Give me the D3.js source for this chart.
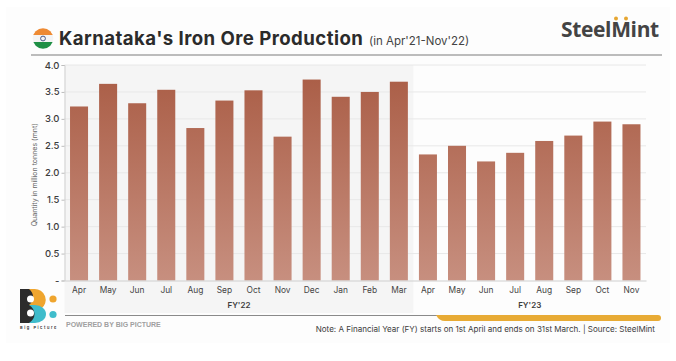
<!DOCTYPE html>
<html lang="en">
<head>
    <meta charset="UTF-8">
    <script src="https://d3js.org/d3.v7.min.js"></script>
    <style>
        html, body { margin: 0; padding: 0; background: #fff; }
        svg { display: block; }
        text { font-family: Inter, "Open Sans", sans-serif; }
        .domain { stroke: #cfcfcf; }
        .tick line { stroke: #bdbdbd; }
    </style>
    <title>Karnataka's Iron Ore Production</title>
</head>
<body>
    <svg width="676" height="361"></svg>
    <script>
        // data
        const months = ["Apr","May","Jun","Jul","Aug","Sep","Oct","Nov","Dec","Jan","Feb","Mar",
                        "Apr","May","Jun","Jul","Aug","Sep","Oct","Nov"];
        const production = [3.23,3.65,3.29,3.54,2.83,3.34,3.53,2.67,3.73,3.41,3.50,3.69,
                            2.34,2.50,2.21,2.37,2.59,2.69,2.95,2.90];
        const yTicks = [0,0.5,1,1.5,2,2.5,3,3.5,4];
        const fyLabels = ["FY'22","FY'23"];
        const fyCounts = [12,8];

        const width = 676, height = 361;
        const margin = { top: 65, right: 30, bottom: 80.5, left: 64.5 };

        const svg = d3.select("svg");
        const bands = d3.range(months.length);

        const x = d3.scaleBand()
            .domain(bands)
            .range([margin.left, width - margin.right])
            .paddingInner(0.38)
            .paddingOuter(0.19);
        const y = d3.scaleLinear()
            .domain([0, 4])
            .range([height - margin.bottom, margin.top]);
        const step = x.step();

        // gradient for bars
        const grad = svg.append("defs").append("linearGradient")
            .attr("id", "barFill")
            .attr("gradientUnits", "userSpaceOnUse")
            .attr("x1", 0).attr("x2", 0)
            .attr("y1", y(3.73)).attr("y2", y(0));
        grad.append("stop").attr("offset", 0).attr("stop-color", "#ab5f48");
        grad.append("stop").attr("offset", 1).attr("stop-color", "#c78f7f");

        // page panel
        svg.append("rect").attr("x", 6).attr("y", 7).attr("width", 664).attr("height", 336).attr("fill", "#fdfdfd");

        // FY'22 shading
        svg.append("rect")
            .attr("x", margin.left).attr("y", y(4))
            .attr("width", step * fyCounts[0]).attr("height", 313 - y(4))
            .attr("fill", "#f5f5f5");

        // y gridlines
        svg.append("g").selectAll("line")
            .data(yTicks.slice(1))
            .join("line")
            .attr("x1", margin.left).attr("x2", width - margin.right)
            .attr("y1", d => y(d)).attr("y2", d => y(d))
            .attr("stroke", "#e8e8e8");

        // bars
        svg.append("g").selectAll("rect")
            .data(production)
            .join("rect")
            .attr("x", (d, i) => x(i))
            .attr("y", d => y(d))
            .attr("width", x.bandwidth())
            .attr("height", d => y(0) - y(d))
            .attr("fill", "url(#barFill)");

        // axes
        svg.append("g")
            .attr("transform", `translate(${margin.left},0)`)
            .call(d3.axisLeft(y).tickValues(yTicks).tickSize(3).tickPadding(2)
                .tickFormat(d => d === 0 ? "-" : d3.format(".1f")(d)))
            .call(g => g.selectAll("text").attr("font-size", 9.5).attr("font-weight", 500).attr("fill", "#3c3c3c")
                .style("font-family", "Inter, sans-serif"));

        svg.append("g")
            .attr("transform", `translate(0,${y(0)})`)
            .call(d3.axisBottom(x).tickSize(0).tickPadding(7).tickFormat(i => months[i]))
            .call(g => g.selectAll("text").attr("font-size", 8.4).attr("fill", "#444")
                .style("font-family", "Inter, sans-serif"));

        svg.append("text")
            .attr("transform", `translate(37,${y(2) + 2}) rotate(-90)`)
            .attr("text-anchor", "middle")
            .attr("font-size", 7).attr("fill", "#666")
            .text("Quantity in million tonnes (mnt)");

        // FY labels
        let startIdx = 0;
        fyLabels.forEach((label, k) => {
            const mid = (x(startIdx) + x(startIdx + fyCounts[k] - 1) + x.bandwidth()) / 2;
            svg.append("text")
                .attr("x", mid).attr("y", 308)
                .attr("text-anchor", "middle")
                .attr("font-size", 8).attr("font-weight", 600).attr("fill", "#3c3c3c")
                .text(label);
            startIdx += fyCounts[k];
        });

        // title
        svg.append("text").attr("x", 59).attr("y", 45)
            .attr("font-size", 18.6).attr("font-weight", 700).attr("letter-spacing", 0.45).attr("fill", "#2b2b2b")
            .text("Karnataka's Iron Ore Production");
        svg.append("text").attr("x", 369).attr("y", 45)
            .attr("font-size", 11.5).attr("fill", "#444")
            .text("(in Apr'21-Nov'22)");

        // header rule
        svg.append("line").attr("x1", 31).attr("x2", 662).attr("y1", 55).attr("y2", 55)
            .attr("stroke", "#a6a6a6").attr("stroke-width", 1.3);

        // flag
        const flag = svg.append("g");
        flag.append("clipPath").attr("id", "flagClip")
            .append("circle").attr("cx", 43).attr("cy", 38.5).attr("r", 10.3);
        const flagG = flag.append("g").attr("clip-path", "url(#flagClip)");
        flagG.append("rect").attr("x", 32).attr("y", 28).attr("width", 22).attr("height", 7).attr("fill", "#ee8a33");
        flagG.append("rect").attr("x", 32).attr("y", 35).attr("width", 22).attr("height", 7).attr("fill", "#f4f4f4");
        flagG.append("rect").attr("x", 32).attr("y", 42).attr("width", 22).attr("height", 7).attr("fill", "#1f8f45");
        flag.append("circle").attr("cx", 43).attr("cy", 38.5).attr("r", 2.4)
            .attr("fill", "none").attr("stroke", "#3a4a7a").attr("stroke-width", 0.9);

        // SteelMint logo
        svg.append("text").attr("x", 561).attr("y", 37)
            .attr("font-size", 21).attr("font-weight", 700).attr("letter-spacing", -0.35).attr("fill", "#444")
            .style("font-family", "'Open Sans', sans-serif")
            .text("SteelMint");
        svg.append("g").selectAll("circle")
            .data([616, 626])
            .join("circle")
            .attr("cx", d => d).attr("cy", 18.5).attr("r", 2)
            .attr("fill", "#e6a632");

        // Big Picture logo
        const logo = svg.append("g");
        logo.append("path").attr("d", "M27 289h7a11 11 0 0 1 7 20l-14 0z").attr("fill", "#efa52e");
        logo.append("path").attr("d", "M27 305h8a11 9 0 0 1 0 18h-8z").attr("fill", "#3fbccb");
        logo.append("rect").attr("x", 20).attr("y", 289).attr("width", 9).attr("height", 34).attr("fill", "#2c2c2c");
        logo.append("path").attr("d", "M29 289a13 11 0 0 1 0 16a13 11 0 0 1 0 18z").attr("fill", "#2c2c2c");
        logo.append("circle").attr("cx", 30.5).attr("cy", 299).attr("r", 3.5).attr("fill", "#fff");
        logo.append("circle").attr("cx", 30.5).attr("cy", 313).attr("r", 3.5).attr("fill", "#fff");
        logo.append("circle").attr("cx", 53).attr("cy", 299).attr("r", 3.6).attr("fill", "#efa52e");
        logo.append("circle").attr("cx", 53).attr("cy", 314.5).attr("r", 3.6).attr("fill", "#3fbccb");
        logo.append("text").attr("x", 20).attr("y", 329)
            .attr("font-size", 4).attr("font-weight", 600).attr("letter-spacing", 1.55).attr("fill", "#333")
            .text("Big Picture");

        // footer
        svg.append("line").attr("x1", 65).attr("x2", 440).attr("y1", 315.5).attr("y2", 315.5)
            .attr("stroke", "#8a8a8a").attr("stroke-width", 1);
        svg.append("path")
            .attr("d", "M436 315H658a2.5 2.5 0 0 1 0 6H445Q439 321 436 315z")
            .attr("fill", "#e8ab35");
        svg.append("text").attr("x", 66).attr("y", 327)
            .attr("font-size", 7).attr("font-weight", 600).attr("fill", "#a0a0a0")
            .style("font-family", "'Liberation Sans', sans-serif")
            .text("POWERED BY BIG PICTURE");
        svg.append("text").attr("x", 655).attr("y", 332)
            .attr("text-anchor", "end")
            .attr("font-size", 8.05).attr("fill", "#3c3c3c")
            .text("Note: A Financial Year (FY) starts on 1st April and ends on 31st March.  |  Source: SteelMint");
    </script>
</body>
</html>
